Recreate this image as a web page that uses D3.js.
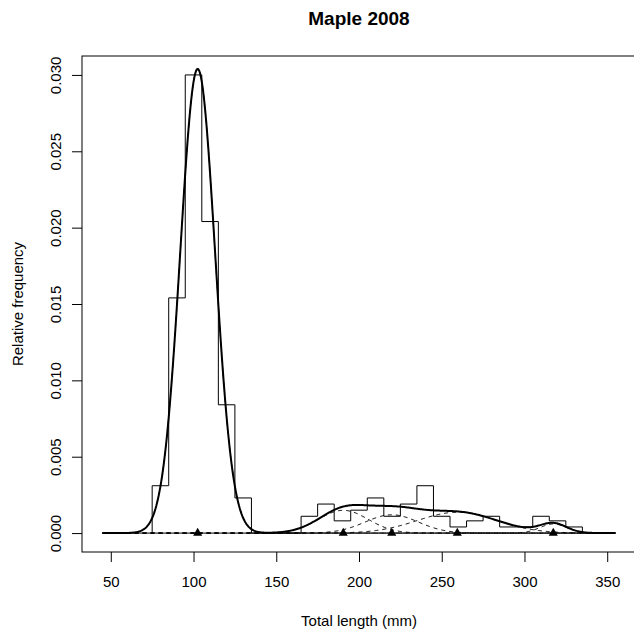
<!DOCTYPE html>
<html>
<head>
<meta charset="utf-8">
<script src="https://cdn.jsdelivr.net/npm/d3@7"></script>
<style>
  body { margin: 0; background: #fff; }
  text { font-family: "Liberation Sans", Arial, sans-serif; fill: #000; }
</style>
</head>
<body>
<svg width="634" height="634"></svg>
<script>
// histogram: bin edges (mm) and relative frequency per bin
var breaks = [75, 85, 95, 105, 115, 125, 135, 145, 155, 165, 175, 185, 195, 205,
              215, 225, 235, 245, 255, 265, 275, 285, 295, 305, 315, 325, 335];
var relFreq = [0.0031, 0.0154, 0.0300, 0.0204, 0.0084, 0.0023, 0, 0, 0,
               0.0011, 0.0019, 0.0008, 0.0015, 0.0023, 0.0011, 0.0019, 0.0031,
               0.0011, 0.0004, 0.0008, 0.0011, 0.0004, 0.0004, 0.0011, 0.0008, 0.0004];

// fitted mixture components (normal), means marked with triangles
var compMean = [102.5, 190.5, 219.8, 259.4, 317.4];
var compSd   = [10.5, 15, 16, 24, 8];
var compProp = [0.800, 0.056, 0.048, 0.082, 0.012];
var curveRange = [45, 355];

var xTicks = [50, 100, 150, 200, 250, 300, 350];
var yTicks = [0, 0.005, 0.010, 0.015, 0.020, 0.025, 0.030];

var svg = d3.select("svg");

var xs = d3.scaleLinear().domain([32.6, 367.4]).range([82, 636]);
var ys = d3.scaleLinear().domain([-0.00124, 0.03124]).range([552, 56]);

function dnorm(x, m, s) {
  return Math.exp(-0.5 * Math.pow((x - m) / s, 2)) / (s * Math.sqrt(2 * Math.PI));
}

var line = d3.line()
  .x(function(d) { return xs(d[0]); })
  .y(function(d) { return ys(d[1]); });

// zero line under the fitted range
svg.append("line")
  .attr("x1", xs(curveRange[0])).attr("x2", xs(curveRange[1]))
  .attr("y1", ys(0)).attr("y2", ys(0))
  .attr("stroke", "#000")
  .attr("stroke-width", 1);

// histogram drawn as a step outline
var steps = [[breaks[0], 0]];
relFreq.forEach(function(v, i) {
  steps.push([breaks[i], v]);
  steps.push([breaks[i + 1], v]);
});
steps.push([breaks[breaks.length - 1], 0]);
svg.append("path")
  .attr("d", line(steps))
  .attr("fill", "none")
  .attr("stroke", "#000")
  .attr("stroke-width", 1);

var grid = d3.range(curveRange[0], curveRange[1] + 0.5, 0.5);

// component curves (dashed)
compMean.forEach(function(m, i) {
  var pts = grid.map(function(x) { return [x, compProp[i] * dnorm(x, m, compSd[i])]; });
  svg.append("path")
    .attr("d", line(pts))
    .attr("fill", "none")
    .attr("stroke", "#000")
    .attr("stroke-width", 1)
    .attr("stroke-dasharray", "4,4");
});

// total mixture density
var total = grid.map(function(x) {
  var s = 0;
  for (var i = 0; i < compMean.length; i++) s += compProp[i] * dnorm(x, compMean[i], compSd[i]);
  return [x, s];
});
svg.append("path")
  .attr("d", line(total))
  .attr("fill", "none")
  .attr("stroke", "#000")
  .attr("stroke-width", 2)
  .attr("stroke-linejoin", "round");

// component means
svg.append("g").selectAll("path")
  .data(compMean)
  .enter()
  .append("path")
    .attr("d", d3.symbol(d3.symbolTriangle, 36))
    .attr("transform", function(d) { return "translate(" + xs(d) + "," + ys(0) + ")"; })
    .attr("fill", "#000");

// box
svg.append("rect")
  .attr("x", 82).attr("y", 56)
  .attr("width", 554).attr("height", 496)
  .attr("fill", "none")
  .attr("stroke", "#000");

// axes
var xa = svg.append("g")
  .attr("transform", "translate(0,552)")
  .call(d3.axisBottom(xs).tickValues(xTicks).tickSize(10).tickFormat(d3.format("d")));
xa.select(".domain").remove();
xa.selectAll(".tick text")
  .attr("y", 35).attr("dy", 0)
  .style("font-size", "15px");

var ya = svg.append("g")
  .attr("transform", "translate(82,0)")
  .call(d3.axisLeft(ys).tickValues(yTicks).tickSize(10).tickFormat(d3.format(".3f")));
ya.select(".domain").remove();
ya.selectAll(".tick text")
  .attr("x", 0).attr("dy", 0)
  .attr("text-anchor", "middle")
  .attr("transform", "translate(-21,0) rotate(-90)")
  .style("font-size", "15px");

svg.selectAll(".tick line").attr("stroke", "#000");
svg.selectAll(".tick text").style("font-family", "Liberation Sans, Arial, sans-serif").attr("fill", "#000");

// titles
svg.append("text")
  .attr("x", 359).attr("y", 25)
  .attr("text-anchor", "middle")
  .style("font-size", "19px")
  .style("font-weight", "bold")
  .text("Maple 2008");

svg.append("text")
  .attr("x", 359).attr("y", 626)
  .attr("text-anchor", "middle")
  .style("font-size", "15px")
  .text("Total length (mm)");

svg.append("text")
  .attr("transform", "translate(23,304) rotate(-90)")
  .attr("text-anchor", "middle")
  .style("font-size", "15px")
  .text("Relative frequency");
</script>
</body>
</html>
